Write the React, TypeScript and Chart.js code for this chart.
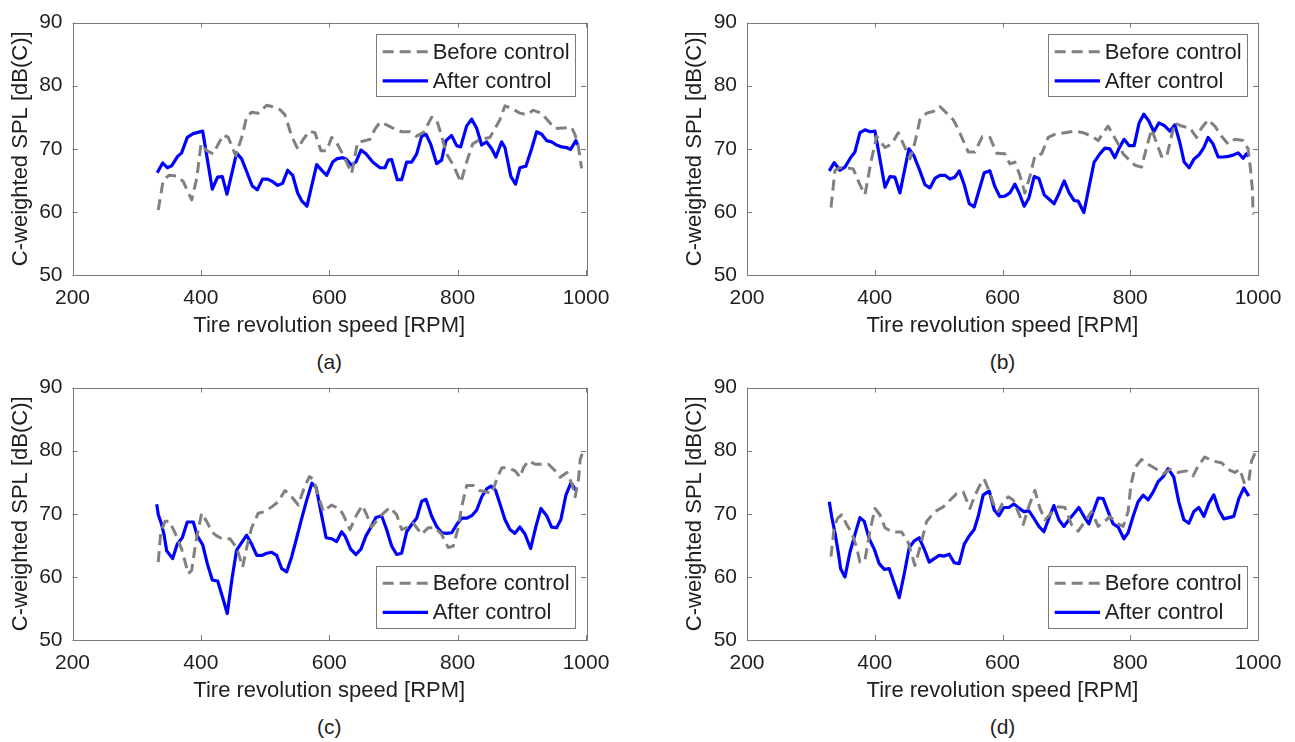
import React, { useEffect, useRef } from "react";
import { Chart, registerables } from "chart.js";

Chart.register(...registerables);

// ---------- text ----------
const xTitle = "Tire revolution speed [RPM]";
const yTitle = "C-weighted SPL [dB(C)]";
const seriesLabels = ["Before control", "After control"];
const captions = ["(a)", "(b)", "(c)", "(d)"];
const xTickValues = [200, 400, 600, 800, 1000];
const yTickValues = [50, 60, 70, 80, 90];

// ---------- (a) ----------
const aBeforeRpm = [333.6, 341.4, 350.8, 362.3, 372.6, 385.7, 393.5, 400.2, 409, 419.3, 427.1, 435, 442.7, 454.2, 464.5, 471.3, 479.1, 489.4, 502.5, 510.3, 523.2, 531, 541.4, 550.8, 559.5, 568.9, 577.7, 587, 596, 603.7, 612.5, 619.3, 627, 634.9, 644, 663.4, 671.2, 679, 689.4, 702.3, 712.8, 725.7, 736, 747, 759.5, 767.3, 775, 782.8, 793.2, 805.1, 814, 823.4, 834.8, 850.3, 865.9, 873.7, 884.1, 897, 907.5, 917.8, 930.9, 941.2, 951.6, 964.5, 977.6, 982.7, 987.9, 993.1];
const aBeforeDb = [60.3, 65.1, 65.8, 65.7, 64.8, 61.9, 65.3, 70.75, 69.7, 69.2, 70.75, 72.2, 71.8, 68.9, 72.1, 75.1, 75.8, 75.65, 76.9, 76.7, 76.2, 75.4, 72.0, 70.0, 71.5, 72.8, 72.55, 69.7, 69.7, 71.8, 70.75, 69.5, 67.9, 66.1, 71.0, 71.5, 73.1, 74.2, 73.8, 73.1, 72.7, 72.7, 72.0, 72.6, 75.0, 74.6, 72.0, 69.2, 67.4, 64.7, 67.9, 70.75, 71.5, 71.8, 74.6, 76.8, 76.4, 75.65, 75.4, 76.1, 75.65, 74.4, 73.2, 73.3, 73.4, 72.3, 70.5, 66.9];
const aAfterRpm = [332, 340.5, 347.7, 354.5, 363.8, 370, 378.8, 388, 402.8, 417.8, 426, 433.4, 440.7, 455.7, 463.5, 471.3, 480, 487.9, 496, 504, 511.8, 519.6, 527.4, 535.2, 543, 550.8, 557.5, 565.3, 580.4, 589.2, 596, 605.3, 611.5, 620.9, 626, 634.9, 641.6, 649.4, 657.2, 667.6, 679, 686.8, 692, 697.2, 706, 712.8, 720.6, 728.4, 736.2, 744, 750.7, 758, 767.3, 775.1, 781.8, 790.6, 798.4, 804.7, 814, 821.8, 829.6, 837.4, 845.2, 853, 859.7, 868.5, 873.7, 883, 890.3, 897, 906.4, 915.3, 923.1, 930.9, 938.6, 946.4, 954.2, 962, 969.8, 976, 984.3, 987];
const aAfterDb = [66.2, 67.75, 67.0, 67.3, 68.8, 69.35, 71.8, 72.4, 72.8, 63.6, 65.5, 65.6, 62.8, 69.35, 68.4, 66.4, 64.1, 63.5, 65.2, 65.2, 64.8, 64.2, 64.55, 66.6, 65.8, 63.0, 61.7, 60.9, 67.5, 66.5, 65.8, 67.9, 68.4, 68.6, 68.4, 67.4, 67.9, 69.8, 69.2, 67.9, 67.0, 67.0, 68.2, 68.3, 65.1, 65.1, 67.9, 67.9, 69.2, 72.0, 72.3, 70.75, 67.65, 68.2, 71.3, 72.1, 70.5, 70.3, 73.6, 74.7, 73.3, 70.6, 71.1, 70.0, 68.7, 71.1, 70.2, 65.6, 64.4, 67.0, 67.25, 70.0, 72.7, 72.3, 71.3, 71.1, 70.6, 70.3, 70.2, 69.9, 71.3, 70.6];

// ---------- (b) ----------
const bBeforeRpm = [331.5, 337.7, 345.5, 356, 366.4, 376.8, 384.7, 394, 403, 416, 426.4, 436.8, 447.3, 455.1, 462.9, 470.7, 481.2, 491.6, 502, 512.5, 522.9, 530.7, 538.5, 546.3, 556.8, 568.2, 580.3, 590.8, 603.8, 611.6, 619.4, 627.2, 635, 642.9, 650.7, 661.2, 671.5, 682, 697.7, 713.3, 726.3, 739.4, 749.8, 757.6, 765.4, 781.1, 788.9, 796.7, 807.2, 817.7, 825.5, 833.4, 849, 856.8, 864.6, 869.8, 880.3, 893.3, 903.7, 911.6, 922, 932.4, 942.9, 953.2, 963.7, 976.7, 984.5, 988.7, 991.4, 992.3];
const bBeforeDb = [60.7, 66.6, 67.0, 67.0, 66.8, 64.3, 62.75, 67.9, 72.0, 70.2, 70.75, 72.55, 70.2, 68.4, 71.0, 74.6, 75.65, 75.9, 76.7, 75.65, 74.6, 73.1, 71.3, 69.5, 69.5, 71.9, 71.8, 69.3, 69.2, 67.6, 67.9, 65.8, 63.0, 65.6, 68.9, 69.2, 71.8, 72.3, 72.55, 72.8, 72.55, 72.0, 71.3, 72.55, 73.6, 70.75, 69.2, 68.4, 67.4, 67.1, 70.2, 73.1, 68.8, 68.7, 72.0, 74.1, 73.6, 73.3, 71.8, 73.3, 74.6, 73.6, 72.0, 70.75, 71.5, 71.3, 70.0, 66.4, 63.3, 59.6];
const bAfterRpm = [328.8, 336.6, 345.5, 353.4, 362.8, 369, 376.8, 384.7, 392.5, 400.3, 416, 423.8, 431.6, 439.4, 453.5, 461.3, 470.7, 478.6, 486.4, 494.2, 502, 509.9, 517.7, 525.5, 532.3, 540.1, 547.9, 555.7, 563.5, 571.4, 580.3, 588.1, 595.9, 603.8, 611.6, 619.4, 626.1, 634, 641.3, 649.6, 657, 665.3, 673.1, 680.9, 688.7, 696.6, 704.4, 712.2, 718.5, 727.4, 735.2, 743.5, 752.4, 760.3, 768.1, 775.9, 782.6, 790.4, 798.3, 806.1, 813.9, 821.3, 829.1, 836.9, 844.8, 853.1, 862, 869.8, 877.6, 884.4, 892.2, 900, 907.4, 915.2, 921.9, 929.7, 937.6, 945.4, 953.2, 961, 968.9, 976.7, 982, 985.6];
const bAfterDb = [66.5, 67.8, 66.6, 67.1, 68.7, 69.5, 72.55, 73.0, 72.7, 72.8, 63.9, 65.6, 65.5, 63.0, 70.0, 68.9, 66.5, 64.3, 63.8, 65.3, 65.8, 65.8, 65.2, 65.5, 66.5, 64.3, 61.3, 60.8, 63.5, 66.2, 66.5, 64.0, 62.4, 62.5, 63.0, 64.4, 63.0, 60.9, 62.2, 65.6, 65.3, 62.7, 62.0, 61.3, 63.0, 64.9, 63.0, 61.8, 61.7, 59.9, 63.8, 67.9, 69.2, 70.1, 70.0, 68.6, 70.1, 71.5, 70.5, 70.5, 74.1, 75.5, 74.4, 72.7, 74.1, 73.7, 72.8, 73.8, 71.0, 67.9, 67.0, 68.4, 69.0, 70.2, 71.8, 70.75, 68.7, 68.7, 68.8, 69.0, 69.35, 68.5, 69.2, 68.8];

// ---------- (c) ----------
const cBeforeRpm = [333.6, 337.4, 344.1, 350.8, 359.7, 370.1, 380.4, 385.7, 392.4, 401.2, 409, 416.8, 424.6, 435, 445.3, 455.7, 465.1, 471.3, 479.1, 489.4, 499.8, 510.3, 520.6, 531, 541.4, 551.7, 559.5, 568.9, 575.1, 582.9, 590.7, 603.7, 616.7, 622.9, 632.2, 642.7, 651.4, 658.3, 666, 679, 694.5, 705, 712.8, 723, 730.9, 744, 754.3, 764.7, 775, 785.4, 793.2, 801, 806.3, 814.2, 824.5, 833.8, 845.4, 853.2, 861, 868.8, 879.1, 889.6, 897.4, 902.6, 910.4, 920.8, 931.3, 941.6, 952, 959.8, 970.3, 978, 983.2, 988.4, 991, 995];
const cBeforeDb = [62.35, 67.0, 68.8, 68.8, 67.0, 64.4, 60.5, 61.05, 65.7, 70.1, 68.8, 67.15, 66.5, 65.95, 66.05, 64.65, 61.55, 64.65, 67.8, 70.1, 70.35, 71.1, 71.9, 73.7, 72.7, 71.4, 73.7, 75.9, 75.5, 72.9, 70.35, 71.4, 70.7, 69.6, 67.5, 69.85, 71.3, 69.85, 67.9, 69.6, 71.0, 69.85, 67.5, 67.9, 68.5, 66.75, 67.8, 67.8, 66.75, 64.65, 64.9, 67.8, 71.1, 74.5, 74.5, 73.7, 73.45, 73.2, 75.5, 77.3, 77.3, 76.8, 75.8, 77.3, 78.4, 77.85, 77.85, 77.85, 76.8, 75.8, 76.55, 74.75, 72.7, 75.5, 78.6, 79.8];
const cAfterRpm = [331.2, 333.7, 338.9, 343, 346.7, 356, 363.3, 371, 378.8, 388.2, 394.4, 402.8, 410, 417.8, 426.2, 434, 441.1, 448.9, 455.7, 463.5, 471.3, 479.1, 487, 494.8, 502.6, 510.3, 518.1, 526, 533.7, 541.5, 549.3, 557.2, 565, 572.9, 579.6, 586.9, 595.1, 603.7, 611.5, 619.3, 624.5, 633.3, 641.6, 649.4, 657.2, 664.5, 672.7, 681.6, 689.4, 697.2, 705, 712.8, 720.6, 728.4, 736.2, 744, 750.7, 759.6, 767.4, 775.1, 783, 790.8, 798.6, 806.4, 814.2, 822, 829.8, 837.6, 845.4, 852.1, 859.2, 865.9, 873.7, 881.5, 889.3, 897, 904.9, 913.7, 922, 929.8, 938.7, 946.4, 954.2, 960.9, 968.7, 976.5, 984.3];
const cAfterDb = [71.5, 69.85, 68.3, 66.5, 64.15, 62.9, 65.2, 66.2, 68.7, 68.7, 66.5, 65.1, 62.1, 59.5, 59.35, 56.7, 54.2, 60.0, 64.25, 65.45, 66.6, 65.2, 63.4, 63.4, 63.75, 63.9, 63.4, 61.3, 60.8, 63.2, 66.2, 69.3, 72.2, 74.85, 74.2, 70.35, 66.2, 66.05, 65.6, 67.15, 66.5, 64.4, 63.55, 64.4, 66.5, 67.8, 69.4, 69.7, 67.5, 64.9, 63.55, 63.75, 67.15, 68.3, 69.3, 72.0, 72.3, 69.6, 68.0, 67.0, 66.9, 67.0, 68.3, 69.3, 69.3, 69.7, 70.6, 72.7, 73.95, 74.4, 73.7, 71.6, 69.1, 67.5, 66.9, 67.9, 66.8, 64.5, 68.0, 70.85, 69.7, 67.9, 67.8, 69.1, 72.95, 74.9, 73.7];

// ---------- (d) ----------
const dBeforeRpm = [331.5, 336.6, 341.9, 348.2, 356, 363.9, 371.7, 376.8, 384.7, 392.5, 400.3, 408.1, 416, 426.4, 442.1, 452.4, 457.7, 462.9, 470.7, 481.2, 494.2, 507.2, 517.7, 528.2, 538.6, 549, 556.8, 564.6, 571.4, 577.7, 585.5, 593.3, 600, 609, 616.8, 632.5, 640.2, 650.7, 658.5, 666.4, 676.8, 687.2, 697.7, 708.1, 718.5, 729, 739.4, 749.8, 760.2, 768.1, 778.5, 788.9, 796.7, 800.9, 807.2, 817.7, 828, 841.2, 851.5, 862, 874.1, 888.1, 898.4, 906.3, 916.7, 929.7, 942.9, 953.2, 963.7, 971.5, 979.3, 985.6, 989.8, 992.3, 996];
const dBeforeDb = [63.2, 68.0, 69.3, 69.85, 68.3, 67.0, 64.65, 62.35, 62.7, 67.25, 70.85, 69.85, 67.8, 67.15, 67.1, 65.45, 63.6, 61.8, 64.65, 68.8, 70.35, 71.1, 72.15, 73.2, 73.45, 70.85, 72.9, 74.5, 75.5, 73.95, 71.65, 70.35, 71.65, 72.7, 72.2, 68.3, 70.9, 73.7, 70.9, 69.05, 70.1, 71.1, 71.0, 68.3, 67.25, 68.8, 70.35, 68.0, 68.8, 69.6, 68.55, 68.0, 70.35, 74.5, 77.3, 78.6, 77.85, 77.05, 76.3, 77.05, 76.55, 76.8, 76.0, 77.6, 79.0, 78.35, 78.1, 77.05, 76.55, 77.05, 74.7, 75.2, 78.35, 78.9, 79.8];
const dAfterRpm = [328.8, 332.5, 337.7, 342.9, 346.6, 353.4, 361.2, 369, 376.8, 383.6, 391.4, 399.2, 407, 414.9, 422.7, 430.5, 438.3, 446.2, 454, 461.8, 469.6, 477.5, 485.3, 493.1, 500.9, 508.8, 516.6, 524.4, 532.2, 540.1, 547.9, 555.7, 562, 569.8, 579.2, 587, 594.4, 602.2, 610, 617.8, 625.7, 633.5, 641.3, 649.1, 657, 664.8, 672.6, 680.4, 688.3, 696.1, 703.9, 711.7, 719.6, 727.4, 735.2, 743, 749.8, 757.6, 765.4, 773.2, 781.1, 790, 796.7, 804.5, 812.3, 820.2, 828, 835.8, 843.7, 851.5, 859.3, 868.2, 876, 883.9, 891.7, 899.5, 907.4, 915.2, 923, 930.8, 938.7, 946.5, 954.3, 962.1, 970, 977.8, 985.6];
const dAfterDb = [71.9, 69.6, 67.0, 63.9, 61.3, 60.0, 63.9, 66.75, 69.4, 68.8, 66.0, 64.4, 62.1, 61.2, 61.3, 59.0, 56.7, 60.5, 64.65, 65.7, 66.2, 64.4, 62.35, 62.9, 63.4, 63.3, 63.6, 62.25, 62.1, 65.2, 66.5, 67.5, 69.6, 73.0, 73.6, 70.6, 69.7, 71.0, 71.0, 71.55, 70.9, 70.35, 70.45, 69.3, 68.0, 67.15, 69.3, 71.3, 69.05, 68.0, 69.05, 70.0, 71.0, 69.6, 68.4, 70.6, 72.5, 72.4, 70.35, 68.4, 67.9, 66.05, 67.0, 69.6, 71.9, 72.95, 72.2, 73.45, 75.1, 75.9, 77.15, 75.8, 71.9, 69.05, 68.5, 70.35, 71.0, 69.6, 71.65, 73.0, 70.6, 69.2, 69.4, 69.6, 72.4, 74.1, 72.8];

// ---------- styling ----------
const FONT = "'Liberation Sans', Arial, Helvetica, sans-serif";
const TEXT = "#1f1f1f";
const AXIS = "#7a7a7a";
const GRAY = "#808080";
const BLUE = "#0000ff";
const CANVAS_H = 345;

const toPoints = (xs: number[], ys: number[]) => xs.map((x, i) => ({ x, y: ys[i] }));

type PanelCfg = {
  caption: string;
  left: number;
  top: number;
  width: number;
  plotLeft: number;
  plotRight: number;
  plotTop: number;
  plotBottom: number;
  legendAt: "top" | "bottom";
  beforeRpm: number[];
  beforeDb: number[];
  afterRpm: number[];
  afterDb: number[];
};

const panels: PanelCfg[] = [
  { caption: captions[0], left: 0, top: 0, width: 626, plotLeft: 72.5, plotRight: 586, plotTop: 17.5, plotBottom: 275, legendAt: "top", beforeRpm: aBeforeRpm, beforeDb: aBeforeDb, afterRpm: aAfterRpm, afterDb: aAfterDb },
  { caption: captions[1], left: 674, top: 0, width: 621, plotLeft: 73, plotRight: 584, plotTop: 17.5, plotBottom: 275, legendAt: "top", beforeRpm: bBeforeRpm, beforeDb: bBeforeDb, afterRpm: bAfterRpm, afterDb: bAfterDb },
  { caption: captions[2], left: 0, top: 365, width: 626, plotLeft: 72.5, plotRight: 586, plotTop: 18, plotBottom: 275, legendAt: "bottom", beforeRpm: cBeforeRpm, beforeDb: cBeforeDb, afterRpm: cAfterRpm, afterDb: cAfterDb },
  { caption: captions[3], left: 674, top: 365, width: 621, plotLeft: 73, plotRight: 584, plotTop: 18, plotBottom: 275, legendAt: "bottom", beforeRpm: dBeforeRpm, beforeDb: dBeforeDb, afterRpm: dAfterRpm, afterDb: dAfterDb },
];

const framePlugin = {
  id: "matlabFrame",
  afterDraw(chart: any, _args: any, opts: any) {
    const { ctx, chartArea } = chart;
    const { left, right, top, bottom } = chartArea;
    const xs = chart.scales.x;
    const ys = chart.scales.y;
    ctx.save();
    ctx.strokeStyle = AXIS;
    ctx.lineWidth = 1;
    const tl = 5;
    ctx.beginPath();
    xTickValues.forEach((v) => {
      const px = Math.round(xs.getPixelForValue(v)) + 0.5;
      ctx.moveTo(px, bottom);
      ctx.lineTo(px, bottom - tl);
      ctx.moveTo(px, top);
      ctx.lineTo(px, top + tl);
    });
    yTickValues.forEach((v) => {
      const py = Math.round(ys.getPixelForValue(v)) + 0.5;
      ctx.moveTo(left, py);
      ctx.lineTo(left + tl, py);
      ctx.moveTo(right, py);
      ctx.lineTo(right - tl, py);
    });
    ctx.stroke();
    ctx.strokeRect(Math.round(left) + 0.5, Math.round(top) + 0.5, Math.round(right - left), Math.round(bottom - top));

    // legend box
    const w = 199;
    const h = 62.4;
    const bx = right - 11 - w;
    const by = opts.at === "top" ? top + 11.8 : bottom - 11.7 - h;
    ctx.fillStyle = "#ffffff";
    ctx.fillRect(bx, by, w, h);
    ctx.strokeStyle = AXIS;
    ctx.lineWidth = 1;
    ctx.strokeRect(Math.round(bx) + 0.5, Math.round(by) + 0.5, Math.round(w), Math.round(h));
    const rows = [by + 17.4, by + 46.4];
    chart.data.datasets.forEach((ds: any, i: number) => {
      const y = rows[i];
      ctx.save();
      ctx.strokeStyle = ds.borderColor;
      ctx.lineWidth = ds.borderWidth;
      ctx.setLineDash(ds.borderDash || []);
      ctx.beginPath();
      ctx.moveTo(bx + 6.7, y);
      ctx.lineTo(bx + 52, y);
      ctx.stroke();
      ctx.restore();
      ctx.fillStyle = TEXT;
      ctx.font = `22px ${FONT}`;
      ctx.textBaseline = "middle";
      ctx.textAlign = "left";
      ctx.fillText(ds.label, bx + 56.7, y + 1);
    });
    ctx.restore();
  },
};

function Panel({ cfg }: { cfg: PanelCfg }) {
  const ref = useRef<HTMLCanvasElement>(null);
  useEffect(() => {
    const plotH = cfg.plotBottom - cfg.plotTop;
    const chart = new Chart(ref.current as HTMLCanvasElement, {
      type: "line",
      data: {
        datasets: [
          {
            label: seriesLabels[0],
            data: toPoints(cfg.beforeRpm, cfg.beforeDb),
            borderColor: GRAY,
            borderWidth: 3,
            borderDash: [11, 6],
            borderJoinStyle: "round",
            pointRadius: 0,
            tension: 0,
            fill: false,
          },
          {
            label: seriesLabels[1],
            data: toPoints(cfg.afterRpm, cfg.afterDb),
            borderColor: BLUE,
            borderWidth: 3.2,
            borderJoinStyle: "round",
            pointRadius: 0,
            tension: 0,
            fill: false,
          },
        ],
      } as any,
      options: {
        responsive: false,
        animation: false,
        events: [],
        layout: {
          padding: { left: 0, top: cfg.plotTop, right: cfg.width - cfg.plotRight, bottom: 0 },
        },
        plugins: {
          legend: { display: false },
          tooltip: { enabled: false },
          matlabFrame: { at: cfg.legendAt },
        } as any,
        scales: {
          x: {
            type: "linear",
            min: 200,
            max: 1000,
            grid: { display: false, drawTicks: false },
            border: { display: false },
            ticks: {
              stepSize: 200,
              padding: 11,
              color: TEXT,
              font: { family: FONT, size: 21 },
              maxRotation: 0,
              callback: (v: any) => String(v),
            },
            title: {
              display: true,
              text: xTitle,
              color: TEXT,
              font: { family: FONT, size: 22 },
              padding: { top: 0, bottom: 5.8 },
            },
            afterFit: (s: any) => {
              s.height = CANVAS_H - cfg.plotTop - plotH;
            },
          },
          y: {
            type: "linear",
            min: 50,
            max: 90,
            grid: { display: false, drawTicks: false },
            border: { display: false },
            ticks: {
              stepSize: 10,
              padding: 10,
              color: TEXT,
              font: { family: FONT, size: 21 },
              callback: (v: any) => String(v),
            },
            title: {
              display: true,
              text: yTitle,
              color: TEXT,
              font: { family: FONT, size: 22 },
              padding: { top: 8, bottom: 0 },
            },
            afterFit: (s: any) => {
              s.width = cfg.plotLeft;
            },
          },
        },
      } as any,
      plugins: [framePlugin],
    });
    return () => chart.destroy();
  }, [cfg]);

  const cx = cfg.left + (cfg.plotLeft + cfg.plotRight) / 2;
  return (
    <>
      <canvas
        ref={ref}
        width={cfg.width}
        height={CANVAS_H}
        style={{ position: "absolute", left: cfg.left, top: cfg.top, width: cfg.width, height: CANVAS_H }}
      />
      <div
        style={{
          position: "absolute",
          left: cx - 50,
          top: cfg.top + 348.7,
          width: 100,
          textAlign: "center",
          font: `21px ${FONT}`,
          lineHeight: "25px",
          color: TEXT,
        }}
      >
        {cfg.caption}
      </div>
    </>
  );
}

export default function App() {
  return (
    <div style={{ position: "absolute", left: 0, top: 0, width: 1295, height: 742, background: "#fff", overflow: "hidden" }}>
      {panels.map((p) => (
        <Panel key={p.caption} cfg={p} />
      ))}
    </div>
  );
}
